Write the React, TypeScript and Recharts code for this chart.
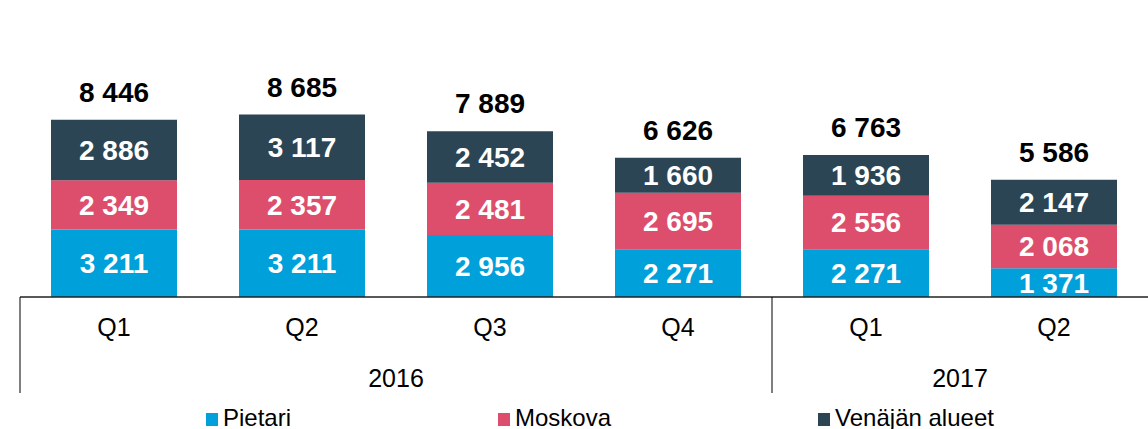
import React from 'react';
import { BarChart, Bar, XAxis, YAxis, LabelList, Legend } from 'recharts';

const quarters = ['Q1', 'Q2', 'Q3', 'Q4', 'Q1', 'Q2'];
const years = ['2016', '2016', '2016', '2016', '2017', '2017'];
const pietari = [3211, 3211, 2956, 2271, 2271, 1371];
const moskova = [2349, 2357, 2481, 2695, 2556, 2068];
const alueet = [2886, 3117, 2452, 1660, 1936, 2147];

const seriesNames = ['Pietari', 'Moskova', 'Venäjän alueet'];
const colors = ['#00A0DA', '#DC4E6B', '#2B4555'];

const data = quarters.map((q, i) => ({
  key: `${years[i]}-${q}`,
  q,
  year: years[i],
  pietari: pietari[i],
  moskova: moskova[i],
  alueet: alueet[i],
  total: pietari[i] + moskova[i] + alueet[i],
}));

const W = 1148;
const H = 429;
const M = { top: 87, left: 20, right: 0, bottom: 0 };
const BAND = (W - M.left - M.right) / data.length;
const FONT = '"Liberation Sans", Arial, sans-serif';

const fmt = (v: number) => String(v).replace(/\B(?=(\d{3})+(?!\d))/g, ' ');

const Tick = (props: any) => {
  const { x, y, index } = props;
  const d = data[index];
  const groupStart = index === 0 || data[index - 1].year !== d.year;
  let groupEl = null;
  if (groupStart) {
    let n = 0;
    while (index + n < data.length && data[index + n].year === d.year) n++;
    const left = x - BAND / 2;
    const cx = left + (n * BAND) / 2;
    groupEl = (
      <g>
        <line x1={left} x2={left} y1={y} y2={y + 96} stroke="#000" strokeWidth={1} />
        <text x={cx} y={y + 90} textAnchor="middle" fontFamily={FONT} fontSize={25} fill="#000">
          {d.year}
        </text>
      </g>
    );
  }
  return (
    <g>
      <text x={x} y={y + 39} textAnchor="middle" fontFamily={FONT} fontSize={25} fill="#000">
        {d.q}
      </text>
      {groupEl}
    </g>
  );
};

const TotalLabel = (props: any) => {
  const { x, y, width, index } = props;
  return (
    <text x={x + width / 2} y={y - 18} textAnchor="middle" fontFamily={FONT} fontWeight="bold" fontSize={28} fill="#000">
      {fmt(data[index].total)}
    </text>
  );
};

const LegendContent = () => (
  <div style={{ display: 'flex', paddingLeft: 206, fontFamily: FONT, fontSize: 24, color: '#000', lineHeight: '28px', whiteSpace: 'nowrap' }}>
    {seriesNames.map((n, i) => (
      <div key={n} style={{ display: 'flex', alignItems: 'center', marginRight: 207, flexShrink: 0 }}>
        <span style={{ display: 'inline-block', width: 12, height: 13, background: colors[i], marginRight: 5, marginTop: 3 }} />
        <span>{n}</span>
      </div>
    ))}
  </div>
);

export default function App() {
  const labelStyle = { fill: '#fff', fontFamily: FONT, fontWeight: 'bold', fontSize: 28 } as any;
  return (
    <div style={{ position: 'absolute', left: 0, top: 0, width: W, height: H, background: '#fff' }}>
      <BarChart width={W} height={H} data={data} margin={M} barCategoryGap={31}>
        <XAxis
          dataKey="key"
          axisLine={{ stroke: '#222', strokeWidth: 1.5 }}
          tickLine={false}
          tickSize={0}
          tickMargin={0}
          height={104}
          interval={0}
          tick={<Tick />}
        />
        <YAxis hide domain={[0, 10000]} />
        <Legend
          verticalAlign="bottom"
          height={30}
          content={<LegendContent />}
          wrapperStyle={{ left: 0, top: 404, bottom: 'auto', width: W, height: 28 }}
        />
        <Bar dataKey="pietari" stackId="a" fill={colors[0]} isAnimationActive={false}>
          <LabelList dataKey="pietari" position="center" formatter={(v: any) => fmt(v)} style={labelStyle} />
        </Bar>
        <Bar dataKey="moskova" stackId="a" fill={colors[1]} isAnimationActive={false}>
          <LabelList dataKey="moskova" position="center" formatter={(v: any) => fmt(v)} style={labelStyle} />
        </Bar>
        <Bar dataKey="alueet" stackId="a" fill={colors[2]} isAnimationActive={false}>
          <LabelList dataKey="alueet" position="center" formatter={(v: any) => fmt(v)} style={labelStyle} />
          <LabelList dataKey="total" content={<TotalLabel />} />
        </Bar>
      </BarChart>
    </div>
  );
}
